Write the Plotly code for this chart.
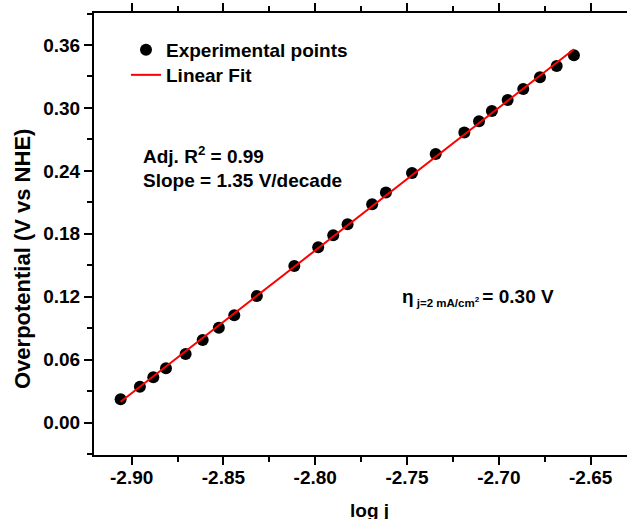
import numpy as np
import plotly.graph_objects as go

# Data
log_j = [-2.906, -2.8955, -2.8882, -2.8813, -2.8706, -2.8613, -2.8525, -2.8441,
         -2.8318, -2.8114, -2.7984, -2.7902, -2.7824, -2.7690, -2.7615, -2.7473,
         -2.7344, -2.7188, -2.7108, -2.7038, -2.6952, -2.6867, -2.6776, -2.6685,
         -2.6591]
overpotential = [0.0223, 0.0343, 0.0433, 0.0519, 0.0655, 0.0788, 0.0906, 0.1024,
                 0.1208, 0.1494, 0.1672, 0.1786, 0.1891, 0.2082, 0.2193, 0.2380,
                 0.2561, 0.2765, 0.2873, 0.2971, 0.3076, 0.3181, 0.3293, 0.3400,
                 0.3502]

x_ticks = [-2.90, -2.85, -2.80, -2.75, -2.70, -2.65]
x_tick_labels = ["-2.90", "-2.85", "-2.80", "-2.75", "-2.70", "-2.65"]
y_ticks = [0.00, 0.06, 0.12, 0.18, 0.24, 0.30, 0.36]
y_tick_labels = ["0.00", "0.06", "0.12", "0.18", "0.24", "0.30", "0.36"]

# Linear fit from the data
coef = np.polyfit(log_j, overpotential, 1)
fit_x = [min(log_j), max(log_j)]
fit_y = [float(np.polyval(coef, v)) for v in fit_x]

FONT = "Liberation Sans, Arial, sans-serif"

W, H = 627, 519
ML, MR, MT, MB = 94, 0, 13, 64
PW, PH = W - ML - MR, H - MT - MB


def px(xp):
    return (xp - ML) / PW


def py(yp):
    return (H - MB - yp) / PH


fig = go.Figure()
fig.add_trace(go.Scatter(
    x=log_j, y=overpotential, mode="markers", name="Experimental points",
    marker=dict(color="black", size=12, symbol="circle"), legend="legend",
))
fig.add_trace(go.Scatter(
    x=fit_x, y=fit_y, mode="lines", name="Linear Fit",
    line=dict(color="#ff0000", width=2), legend="legend2",
))

axis_common = dict(
    showgrid=False, zeroline=False, showline=True, linecolor="black", linewidth=2,
    ticks="outside", ticklen=8, tickwidth=2, tickcolor="black", automargin=False,
    tickfont=dict(family=FONT, size=19, color="black", weight="bold"),
)

fig.update_xaxes(
    range=[-2.9205, -2.6302], tickvals=x_ticks, ticktext=x_tick_labels,
    mirror="ticks", ticklabelstandoff=-4,
    minor=dict(dtick=0.025, tick0=-2.9, ticks="outside", ticklen=5, tickwidth=2,
               tickcolor="black"),
    **axis_common,
)
fig.update_yaxes(
    range=[-0.0308, 0.3905], tickvals=y_ticks, ticktext=y_tick_labels,
    mirror=False,
    minor=dict(dtick=0.03, tick0=0, ticks="outside", ticklen=5, tickwidth=2,
               tickcolor="black"),
    **axis_common,
)

annotations = [
    dict(text="log j", x=px(369.5), y=py(510), xanchor="center", yanchor="middle",
         font=dict(size=19)),
    dict(text="Overpotential (V vs NHE)", x=px(22), y=py(259), textangle=-90,
         xanchor="center", yanchor="middle", font=dict(size=22)),
    dict(text="Adj. R<sup>2</sup> = 0.99", x=px(141), y=py(155), xanchor="left",
         yanchor="middle", font=dict(size=19)),
    dict(text="Slope = 1.35 V/decade", x=px(141), y=py(180), xanchor="left",
         yanchor="middle", font=dict(size=19)),
    dict(text="η<sub><span style=\"font-size:11.5px\"> j=2 mA/cm<sup>2</sup> </span></sub>= 0.30 V",
         x=px(400), y=py(297), xanchor="left", yanchor="middle", font=dict(size=19)),
]
for a in annotations:
    a.update(xref="paper", yref="paper", showarrow=False)
    a["font"].update(family=FONT, color="black", weight="bold")

legend_style = dict(
    xanchor="left", yanchor="middle", bgcolor="rgba(0,0,0,0)", borderwidth=0,
    font=dict(family=FONT, size=19, color="black", weight="bold"),
    tracegroupgap=0, itemwidth=30,
)

fig.update_layout(
    width=W, height=H,
    margin=dict(l=ML, r=MR, t=MT, b=MB, pad=0, autoexpand=False),
    paper_bgcolor="white", plot_bgcolor="white",
    showlegend=True,
    legend=dict(x=px(126), y=py(50), **legend_style),
    legend2=dict(x=px(126), y=py(75), **legend_style),
    annotations=annotations,
)

fig.write_html(
    "out.html",
    config={"displayModeBar": False},
    post_script="document.body.style.margin='0';document.body.style.overflow='hidden';",
)
